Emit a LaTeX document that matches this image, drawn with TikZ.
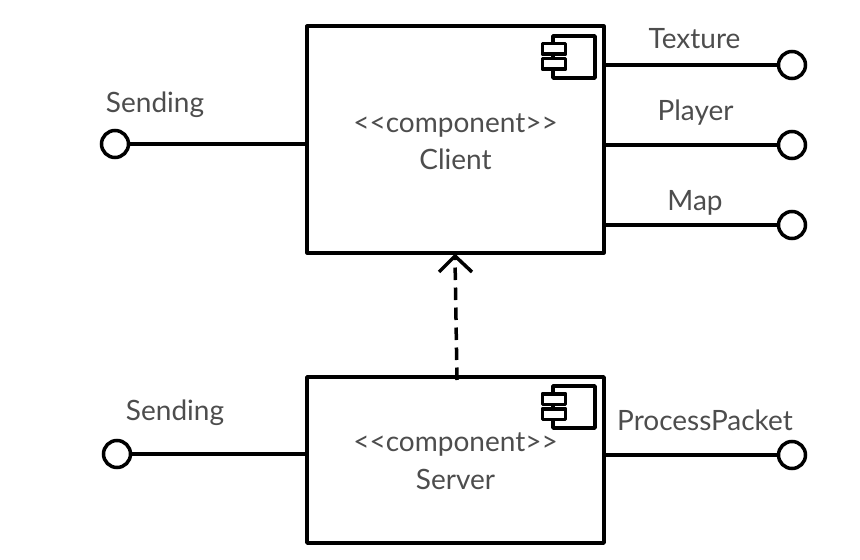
\documentclass[tikz,border=0pt]{standalone}
\usepackage{fontspec}
\setmainfont{Lato}
\usetikzlibrary{positioning}
\definecolor{labelgray}{HTML}{4D4D4D}
\tikzset{
  compbox/.style={draw,line width=3.5bp,line join=round,minimum width=297bp,align=center,text=labelgray,font=\fontsize{28bp}{37.5bp}\selectfont},
  lollipop/.style={draw,circle,line width=3.5bp,fill=white,inner sep=0pt,minimum size=27bp},
  tag/.style={text=labelgray,font=\fontsize{28bp}{30bp}\selectfont,inner sep=0pt,anchor=base},
  part/.style={draw,line width=3.5bp,line join=round,fill=white,inner sep=0pt,minimum width=23bp,minimum height=10.5bp},
  wire/.style={line width=3.5bp,line join=round}
}
\begin{document}
\begin{tikzpicture}[x=1bp,y=-1bp]
\useasboundingbox (0,0) rectangle (860,560);
% boxes
\node[compbox,minimum height=226.5bp] (client) at (455.5,139.5) {\rule{0pt}{23bp}<{}<component>{}>\\Client};
\node[compbox,minimum height=166bp] (server) at (455.5,460) {\rule{0pt}{21bp}<{}<component>{}>\\Server};
% icons
\draw[wire] (553,36) rectangle (595,78);
\node[part] (clientpa) at (554,49) {};
\node[part] (clientpb) at (554,64) {};
\draw[wire] (553,386) rectangle (595,428);
\node[part] (serverpa) at (554,399) {};
\node[part] (serverpb) at (554,414) {};
% interfaces
\node[lollipop] (sendc) at (115,144) {};
\node[lollipop] (texture) at (792,65) {};
\node[lollipop] (player) at (792,145) {};
\node[lollipop] (map) at (792,225) {};
\node[lollipop] (sends) at (117,454) {};
\node[lollipop] (packet) at (792,455) {};
\coordinate (ca) at (client.east |- texture);
\coordinate (cb) at (client.east |- player);
\coordinate (cc) at (client.east |- map);
\coordinate (sa) at (server.east |- packet);
\draw[wire] (sendc) -- (client.west |- sendc);
\draw[wire] (ca) -- (texture);
\draw[wire] (cb) -- (player);
\draw[wire] (cc) -- (map);
\draw[wire] (sends) -- (server.west |- sends);
\draw[wire] (sa) -- (packet);
% dependency
\coordinate (depfrom) at (457,380);
\coordinate (depto) at (455,258);
\coordinate (tipl) at (439,272);
\coordinate (tip) at (455,256);
\coordinate (tipr) at (472,272);
\draw[wire,dash pattern=on 12.5bp off 7.5bp] (depfrom) -- (depto);
\draw[wire] (tipl) -- (tip) -- (tipr);
% labels
\node[tag] (lsendc) at (155,113) {Sending};
\node[tag] (ltexture) at (694.5,49) {Texture};
\node[tag] (lplayer) at (695.5,121) {Player};
\node[tag] (lmap) at (695,211) {Map};
\node[tag] (lsends) at (175,420) {Sending};
\node[tag] (lpacket) at (705,430) {ProcessPacket};
\end{tikzpicture}
\end{document}
